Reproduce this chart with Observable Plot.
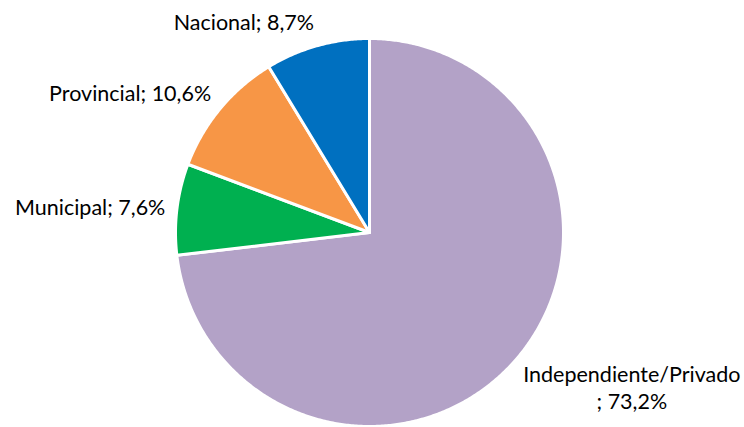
<!DOCTYPE html>
<html>
<head>
<meta charset="utf-8">
<script src="https://cdn.jsdelivr.net/npm/d3@7"></script>
<script src="https://cdn.jsdelivr.net/npm/@observablehq/plot@0.6"></script>
<style>
  html, body { margin: 0; padding: 0; background: #fff; }
</style>
</head>
<body>
<div id="chart"></div>
<script>
const categories = ["Independiente/Privado", "Municipal", "Provincial", "Nacional"];
const values = [73.2, 7.6, 10.6, 8.7];
const labels = ["Independiente/Privado\n; 73,2%", "Municipal; 7,6%", "Provincial; 10,6%", "Nacional; 8,7%"];
const colors = ["#B3A2C7", "#00B050", "#F79646", "#0070C0"];

const FONT_SIZE = 21.5;
const FONT_FAMILY = "Lato, 'Open Sans', sans-serif";
const LINE_HEIGHT = 1.25;

const W = 744, H = 427;
const margin = {left: 175, right: 181, top: 38, bottom: 1};
const Rpx = (W - margin.left - margin.right) / 2;

// pie layout (clockwise from 12 o'clock)
const arcs = d3.pie().sort(null).value(d => d)(values);

const pt = (a, r) => [r * Math.sin(a), r * Math.cos(a)];

const features = arcs.map((a, i) => {
  const n = Math.max(4, Math.ceil((a.endAngle - a.startAngle) / (Math.PI / 360)));
  const ring = [[0, 0]];
  for (let k = 0; k <= n; k++) ring.push(pt(a.startAngle + (a.endAngle - a.startAngle) * k / n, 1));
  ring.push([0, 0]);
  return {type: "Feature", properties: {category: categories[i]}, geometry: {type: "Polygon", coordinates: [ring]}};
});

// label placement: box touches a point just outside the slice's mid angle
const ctx = document.createElement("canvas").getContext("2d");
ctx.font = `${FONT_SIZE}px ${FONT_FAMILY}`;
const labelData = arcs.map((a, i) => {
  const mid = (a.startAngle + a.endAngle) / 2;
  const lines = labels[i].split("\n");
  const w = d3.max(lines, l => ctx.measureText(l).width) / Rpx;
  const h = lines.length * FONT_SIZE * LINE_HEIGHT / Rpx;
  const [ax, ay] = pt(mid, 1.06);
  const dx = Math.sin(mid), dy = Math.cos(mid);
  return {
    label: labels[i],
    x: ax + Math.sign(dx) * w / 2,
    y: ay + dy * h / 2
  };
});

const chart = Plot.plot({
  width: W,
  height: H,
  marginLeft: margin.left,
  marginRight: margin.right,
  marginTop: margin.top,
  marginBottom: margin.bottom,
  projection: {
    type: "reflect-y",
    clip: false,
    domain: {type: "Polygon", coordinates: [[[-1, -1], [1, -1], [1, 1], [-1, 1], [-1, -1]]]}
  },
  color: {domain: categories, range: colors},
  style: {fontFamily: FONT_FAMILY, background: "#fff", overflow: "visible"},
  marks: [
    Plot.geo({type: "FeatureCollection", features}, {
      fill: d => d.properties.category,
      stroke: "#fff",
      strokeWidth: 3,
      strokeLinejoin: "round"
    }),
    Plot.text(labelData, {
      x: "x",
      y: "y",
      text: "label",
      fontSize: FONT_SIZE,
      fill: "#000",
      textAnchor: "middle",
      lineAnchor: "middle",
      lineHeight: LINE_HEIGHT,
      clip: false
    })
  ]
});

document.getElementById("chart").appendChild(chart);
</script>
</body>
</html>
